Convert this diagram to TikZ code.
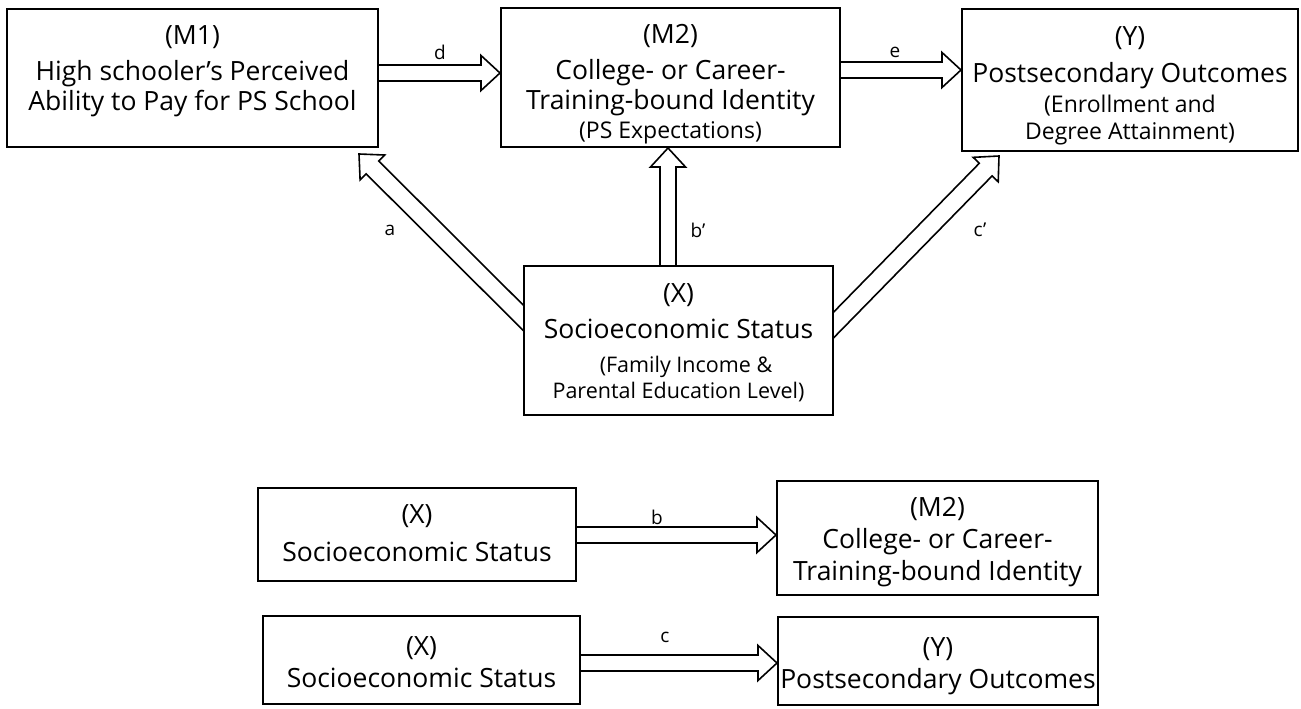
\documentclass[tikz,border=0pt]{standalone}
\usepackage{fontspec}
\setmainfont{Open Sans}
\usetikzlibrary{calc,backgrounds}

\newcommand\smalltxt{\fontsize{23}{27}\selectfont}
\newcommand\smallertxt{\fontsize{21.5}{27}\selectfont}

\begin{document}
\begin{tikzpicture}[x=1pt,y=-1pt,
    box/.style={draw,fill=white,line width=2pt,inner sep=0pt},
    txt/.style={anchor=north,inner sep=0pt,align=center,font=\fontsize{26.5}{30}\selectfont},
    lbl/.style={font=\fontsize{19}{22}\selectfont},
    fat/.style={line width=1.6pt,line join=miter,to path={
      let \p1=(\tikztostart), \p2=(\tikztotarget),
          \n1={atan2(\y2-\y1,\x2-\x1)}, \n2={veclen(\x2-\x1,\y2-\y1)-19} in
      ($(\p1)+(\n1+90:#1pt)$) -- ($(\p1)+(\n1:\n2)+(\n1+90:#1pt)$)
      -- ($(\p1)+(\n1:\n2)+(\n1+90:17.5pt)$) -- (\p2)
      -- ($(\p1)+(\n1:\n2)+(\n1-90:17.5pt)$) -- ($(\p1)+(\n1:\n2)+(\n1-90:#1pt)$)
      -- ($(\p1)+(\n1-90:#1pt)$)}},
    fat/.default=8]
        \useasboundingbox (0,0) rectangle (1301,709);

        % top row
        \node[box,minimum width=371pt,minimum height=138pt] (M1) at (192.5,78) {};
        \node[box,minimum width=339pt,minimum height=139pt] (M2) at (670.5,77.5) {};
        \node[box,minimum width=336pt,minimum height=142pt] (Y) at (1130,80) {};
        \node[box,minimum width=309pt,minimum height=149pt] (X) at (678.5,340.5) {};

        \node[txt] (M1t) at ([yshift=-17pt]M1.north)
          {(M1)\\[6pt]High schooler's Perceived\\Ability to Pay for PS School};
        \node[txt] (M2t) at ([yshift=-17pt]M2.north)
          {(M2)\\[6pt]College- or Career-\\[0pt]Training-bound Identity\\[-1pt]{\smalltxt (PS Expectations)}};
        \node[txt] (Yt) at ([yshift=-18pt]Y.north)
          {(Y)\\[7pt]Postsecondary Outcomes\\[0pt]{\smalltxt (Enrollment and}\\[-3pt]{\smalltxt Degree Attainment)}};
        \node[txt] (Xt) at ([yshift=-18pt]X.north)
          {(X)\\[6pt]Socioeconomic Status\\[4pt]{\smallertxt\hspace{15pt}(Family Income \&}\\[-4pt]{\smallertxt Parental Education Level)}};

        % bottom rows
        \node[box,minimum width=318pt,minimum height=93pt] (X1) at (417,534.5) {};
        \node[box,minimum width=321pt,minimum height=114pt] (M2b) at (937.5,538) {};
        \node[box,minimum width=317pt,minimum height=88pt] (X2) at (421.5,660) {};
        \node[box,minimum width=320pt,minimum height=88pt] (Yb) at (938,661) {};

        \node[txt] (X1t) at ([yshift=-17pt]X1.north) {(X)\\[8pt]Socioeconomic Status};
        \node[txt] (M2bt) at ([yshift=-17pt]M2b.north) {(M2)\\[2pt]College- or Career-\\[2pt]Training-bound Identity};
        \node[txt] (X2t) at ([yshift=-21pt]X2.north) {(X)\\[2pt]Socioeconomic Status};
        \node[txt] (Ybt) at ([yshift=-21pt]Yb.north) {(Y)\\[2pt]Postsecondary Outcomes};

        \coordinate (astart) at ($(X.west |- 0,317.5)+(20,20)$);
        \coordinate (atip) at ($(M1.south east)+(-20,6)$);
        \coordinate (cstart) at ($(X.east |- 0,325)+(-20,20)$);
        \coordinate (ctip) at ($(Y.south west)+(38,4)$);

        \draw[fat] (M1.east |- 0,73) to (M2.west |- 0,73);
        \draw[fat] (M2.east |- 0,70) to (Y.west |- 0,70);
        \draw[fat] (X.north -| 668,0) to (M2.south -| 668,0);
        \draw[fat] (X1.east |- 0,535) to (M2b.west |- 0,535);
        \draw[fat] (X2.east |- 0,663) to (Yb.west |- 0,663);
        \begin{scope}[on background layer]
          \draw[fat=9] (astart) to (atip);
          \draw[fat=9] (cstart) to (ctip);
        \end{scope}

        \node[lbl] (ld) at (440,52) {d};
        \node[lbl] (le) at (895,52) {e};
        \node[lbl] (la) at (390,230) {a};
        \node[lbl] (lb') at (698,230) {b'};
        \node[lbl] (lc') at (980,230) {c'};
        \node[lbl] (lb) at (657,517) {b};
        \node[lbl] (lc) at (665,637) {c};
      \end{tikzpicture}
\end{document}
